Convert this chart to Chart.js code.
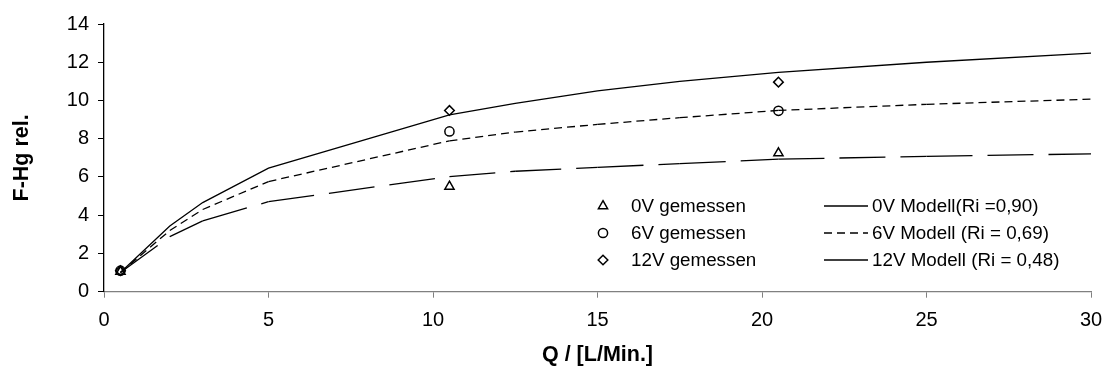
<!DOCTYPE html>
<html>
<head>
<meta charset="utf-8">
<script src="https://cdn.jsdelivr.net/npm/chart.js@4/dist/chart.umd.min.js"></script>
<style>
  html, body { margin: 0; padding: 0; background: #fff; }
  #wrap { width: 1106px; height: 372px; }
</style>
</head>
<body>
<div id="wrap"><canvas id="c" width="1106" height="372"></canvas></div>
<script>
// measured points
const measuredQ = [0.5, 10.5, 20.5];
const meas0V = [1.05, 5.5, 7.25];
const meas6V = [1.1, 8.38, 9.46];
const meas12V = [1.1, 9.48, 10.96];

// model curves
const modelQ = [0.5, 2, 3, 5, 10.5, 12.5, 15, 17.5, 20.5, 25, 30];
const model0V = [1.0, 2.88, 3.70, 4.71, 6.02, 6.30, 6.50, 6.70, 6.93, 7.08, 7.21];
const model6V = [1.0, 3.20, 4.30, 5.76, 7.89, 8.35, 8.75, 9.10, 9.48, 9.80, 10.07];
const model12V = [1.0, 3.44, 4.66, 6.46, 9.25, 9.85, 10.50, 11.00, 11.47, 12.00, 12.48];

const xTicks = [0, 5, 10, 15, 20, 25, 30];
const yTicks = [0, 2, 4, 6, 8, 10, 12, 14];

const labels = {
  m0: '0V gemessen', m6: '6V gemessen', m12: '12V gemessen',
  l0: '0V Modell(Ri =0,90)', l6: '6V Modell (Ri = 0,69)', l12: '12V Modell (Ri = 0,48)'
};

const FONT = '"Liberation Sans", Arial, sans-serif';
const pts = (xs, ys) => xs.map((x, i) => ({x, y: ys[i]}));

const markerBase = {showLine: false, borderColor: '#000', backgroundColor: 'rgba(0,0,0,0)', pointBorderWidth: 1.5, pointBorderColor: '#000', pointBackgroundColor: 'rgba(0,0,0,0)'};
const lineBase = {showLine: true, borderColor: '#000', borderWidth: 1.3, pointRadius: 0, fill: false, tension: 0};

// restart the dash pattern at every vertex (like the original chart):
// alternate the dash offset between 0 and one full period, so each segment is stroked on its own
const restartDash = (pattern) => {
  const period = pattern.reduce((a, b) => a + b, 0);
  return {borderDash: pattern, segment: {borderDashOffset: c => (c.p0DataIndex % 2 ? period : 0)}};
};

const datasets = [
  Object.assign({label: labels.l0, data: pts(modelQ, model0V)}, lineBase, restartDash([46, 15])),
  Object.assign({label: labels.l6, data: pts(modelQ, model6V)}, lineBase, restartDash([8, 5])),
  Object.assign({label: labels.l12, data: pts(modelQ, model12V), borderDash: []}, lineBase),
  Object.assign({label: labels.m0, data: pts(measuredQ, meas0V), pointStyle: 'triangle', pointRadius: 5.3}, markerBase),
  Object.assign({label: labels.m6, data: pts(measuredQ, meas6V), pointStyle: 'circle', pointRadius: 4.6}, markerBase),
  Object.assign({label: labels.m12, data: pts(measuredQ, meas12V), pointStyle: 'rectRot', pointRadius: 4.8}, markerBase)
];

function drawMarker(ctx, style, x, y, r) {
  ctx.beginPath();
  if (style === 'circle') {
    ctx.arc(x, y, r, 0, Math.PI * 2);
  } else if (style === 'triangle') {
    const a = -Math.PI / 2;
    for (let i = 0; i < 3; i++) {
      const ang = a + i * 2 * Math.PI / 3;
      const px = x + Math.cos(ang) * r, py = y + Math.sin(ang) * r;
      if (i === 0) ctx.moveTo(px, py); else ctx.lineTo(px, py);
    }
    ctx.closePath();
  } else {
    ctx.moveTo(x - r, y); ctx.lineTo(x, y - r); ctx.lineTo(x + r, y); ctx.lineTo(x, y + r); ctx.closePath();
  }
  ctx.stroke();
}

const legendPlugin = {
  id: 'insideLegend',
  afterDatasetsDraw(chart) {
    const ctx = chart.ctx;
    const rows = [206, 233, 260];
    ctx.save();
    ctx.font = '18.8px ' + FONT;
    ctx.fillStyle = '#000';
    ctx.textBaseline = 'middle';
    ctx.textAlign = 'left';
    // column 1: measured
    [3, 4, 5].forEach((di, i) => {
      const ds = chart.data.datasets[di];
      ctx.strokeStyle = '#000';
      ctx.lineWidth = 1.5;
      ctx.setLineDash([]);
      drawMarker(ctx, ds.pointStyle, 603, rows[i], ds.pointRadius);
      ctx.fillText(ds.label, 631, rows[i] + 1);
    });
    // column 2: models
    [0, 1, 2].forEach((di, i) => {
      const ds = chart.data.datasets[di];
      ctx.strokeStyle = '#000';
      ctx.lineWidth = ds.borderWidth;
      ctx.setLineDash(ds.borderDash || []);
      ctx.beginPath();
      ctx.moveTo(824, rows[i]);
      ctx.lineTo(868, rows[i]);
      ctx.stroke();
      ctx.setLineDash([]);
      ctx.fillText(ds.label, 872, rows[i] + 1);
    });
    ctx.restore();
  }
};

new Chart(document.getElementById('c'), {
  type: 'scatter',
  data: {datasets},
  plugins: [legendPlugin],
  options: {
    responsive: false,
    animation: false,
    events: [],
    layout: {padding: {left: 0, right: 15, top: 24, bottom: 0}},
    plugins: {legend: {display: false}, tooltip: {enabled: false}},
    scales: {
      x: {
        type: 'linear', min: 0, max: 30,
        afterFit: s => { s.height = 80.3; s.paddingLeft = 0; s.paddingRight = 0; },
        afterBuildTicks: s => { s.ticks = xTicks.map(v => ({value: v})); },
        grid: {display: true, drawOnChartArea: false, drawTicks: true, tickLength: 6, color: '#808080'},
        border: {display: true, color: '#808080', width: 1.3},
        ticks: {color: '#000', font: {family: FONT, size: 20}, padding: 11, maxRotation: 0},
        title: {display: true, text: 'Q / [L/Min.]', color: '#000', font: {family: FONT, size: 21.5, weight: 'bold'}, padding: {top: 0, bottom: 4}}
      },
      y: {
        type: 'linear', min: 0, max: 14,
        afterFit: s => { s.width = 104; s.paddingTop = 0; s.paddingBottom = 0; },
        afterBuildTicks: s => { s.ticks = yTicks.map(v => ({value: v})); },
        grid: {display: true, drawOnChartArea: false, drawTicks: true, tickLength: 6, color: '#000'},
        border: {display: true, color: '#000', width: 1.3},
        ticks: {color: '#000', font: {family: FONT, size: 20}, padding: 9},
        title: {display: true, text: 'F-Hg rel.', color: '#000', font: {family: FONT, size: 21.5, weight: 'bold'}, padding: {top: 9, bottom: 0}}
      }
    }
  }
});
</script>
</body>
</html>
